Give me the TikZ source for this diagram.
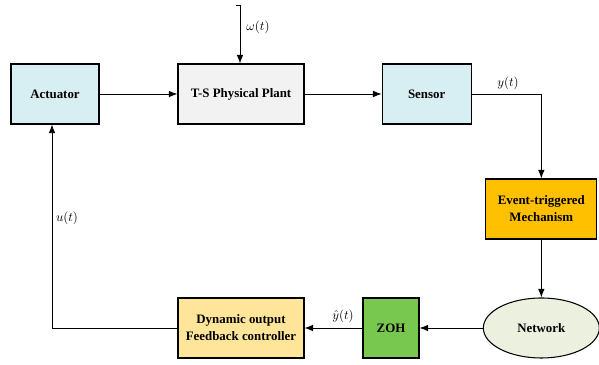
\documentclass[tikz,border=0pt]{standalone}
\usepackage{fontspec}
\setmainfont{Liberation Serif}
\usetikzlibrary{arrows.meta,shapes.geometric}
\definecolor{cyanbox}{HTML}{D7EEF3}
\definecolor{greybox}{HTML}{F2F2F2}
\definecolor{orangebox}{HTML}{FFC000}
\definecolor{netfill}{HTML}{EBF1DE}
\definecolor{zohgreen}{HTML}{78C850}
\definecolor{yellowbox}{HTML}{FFE599}
\tikzset{
  blk/.style={draw, line width=0.9pt, minimum height=1.8cm, align=center,
    font=\fontsize{11}{14.5}\selectfont\bfseries},
  sig/.style={line width=0.75pt, -{Latex[length=2.6mm,width=2mm]}},
  wire/.style={line width=0.75pt}
}
\begin{document}
\begin{tikzpicture}[font=\fontsize{11}{13}\selectfont]
            \useasboundingbox (0,0) rectangle (17.97,10.95);
            % Forward path
            \node[blk, fill=cyanbox, minimum width=2.64cm] (act) at (1.65,8.13) {Actuator};
            \node[blk, fill=greybox, minimum width=3.78cm] (plant) at (7.23,8.13) {T-S Physical Plant};
            \node[blk, fill=cyanbox, minimum width=2.67cm] (sens) at (12.8,8.13) {Sensor};
            \node[blk, fill=orangebox, minimum width=3.33cm] (evt) at (16.24,4.68) {Event-triggered\\Mechanism};

            % Feedback path
            \node[blk, ellipse, fill=netfill, minimum width=3.48cm, inner sep=0pt] (net) at (16.24,1.11) {Network};
            \node[blk, fill=zohgreen, minimum width=1.68cm] (zoh) at (11.73,1.11) {ZOH};
            \node[blk, fill=yellowbox, minimum width=3.78cm] (ctrl) at (7.23,1.11) {Dynamic output\\Feedback controller};

            \coordinate (w) at (7.2,10.8);
            \coordinate (fb) at (1.56,1.11);

            % Connectors
            \draw[wire] ([xshift=-0.12cm]w) -- (w);
            \draw[sig] (w) -- (w |- plant.north);
            \draw[sig] (act) -- (plant);
            \draw[sig] (plant) -- (sens);
            \draw[sig] (sens.east) -| (evt.north);
            \draw[sig] (evt) -- (net);
            \draw[sig] (net) -- (zoh);
            \draw[sig] (zoh) -- (ctrl);
            \draw[sig] (ctrl.west) -- (fb) -- (fb |- act.south);

            % Labels
            \node (lw) at (7.74,10.14) {$\omega(t)$};
            \node (ly) at (15.24,8.46) {$y(t)$};
            \node[anchor=south, inner sep=1pt] (lyh) at (10.29,1.22) {$\hat{y}(t)$};
            \node (lu) at (2.01,4.41) {$u(t)$};
        \end{tikzpicture}
\end{document}
